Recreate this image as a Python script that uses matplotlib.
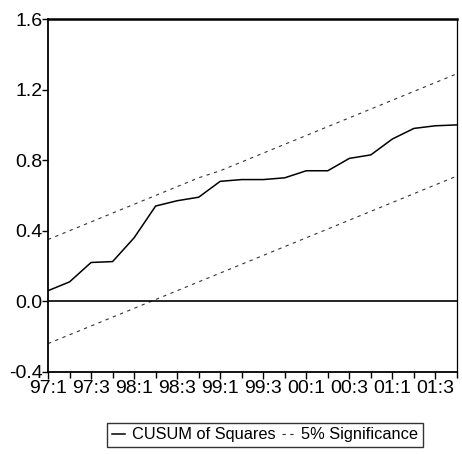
import matplotlib
matplotlib.use("Agg")
import matplotlib.pyplot as plt
from matplotlib.ticker import MultipleLocator, FixedLocator

plt.rcParams['font.family'] = ['Liberation Sans', 'DejaVu Sans']

quarters = ["97:1","97:2","97:3","97:4","98:1","98:2","98:3","98:4",
            "99:1","99:2","99:3","99:4","00:1","00:2","00:3","00:4",
            "01:1","01:2","01:3","01:4"]
cusum_sq = [0.06,0.11,0.22,0.225,0.36,0.54,0.57,0.59,0.68,0.69,0.69,0.70,
            0.74,0.74,0.81,0.83,0.92,0.98,0.995,1.00]
upper = [0.35,0.40,0.45,0.50,0.55,0.60,0.65,0.70,0.74,0.79,0.84,0.89,
         0.94,0.99,1.04,1.09,1.14,1.19,1.24,1.29]
lower = [-0.24,-0.19,-0.14,-0.09,-0.04,0.01,0.06,0.11,0.16,0.21,0.26,0.31,
         0.36,0.41,0.46,0.51,0.56,0.61,0.66,0.71]
yticks = [-0.4, 0.0, 0.4, 0.8, 1.2, 1.6]

fig = plt.figure(figsize=(4.62, 4.54), dpi=100)
ax = fig.add_axes([0.104, 0.181, 0.885, 0.777])

x = list(range(len(quarters)))
ax.plot(x, cusum_sq, color='black', lw=1.1, label='CUSUM of Squares')
ax.plot(x, upper, color='#333333', lw=0.8, ls=(0, (3, 4)), label='5% Significance')
ax.plot(x, lower, color='#333333', lw=0.8, ls=(0, (3, 4)))
ax.axhline(0.0, color='black', lw=1.2)

ax.set_xlim(0, len(quarters) - 1)
ax.set_ylim(-0.4, 1.6)
ax.set_yticks(yticks)
ax.set_yticklabels([f"{v:.1f}" for v in yticks])
major = list(range(0, len(quarters), 2))
ax.xaxis.set_major_locator(FixedLocator(major))
ax.set_xticklabels([quarters[i] for i in major])
ax.xaxis.set_minor_locator(MultipleLocator(1))

ax.tick_params(axis='both', which='major', labelsize=14, length=5, width=1, direction='out', pad=1)
ax.tick_params(axis='x', which='minor', length=4, width=1, direction='out')
ax.tick_params(axis='y', length=4, pad=0)

for s in ['left', 'bottom']:
    ax.spines[s].set_linewidth(1.3)
ax.spines['top'].set_linewidth(1.8)
ax.spines['right'].set_linewidth(0.9)

leg = fig.legend(loc='center', bbox_to_anchor=(0.574, 0.042), ncol=2,
                 fontsize=11.8, frameon=True, fancybox=False, handlelength=0.8,
                 handletextpad=0.4, columnspacing=0.4, borderpad=0.3,
                 borderaxespad=0)
leg.get_frame().set_edgecolor('black')
leg.get_frame().set_linewidth(1.0)

fig.savefig("out.png", dpi=100)
